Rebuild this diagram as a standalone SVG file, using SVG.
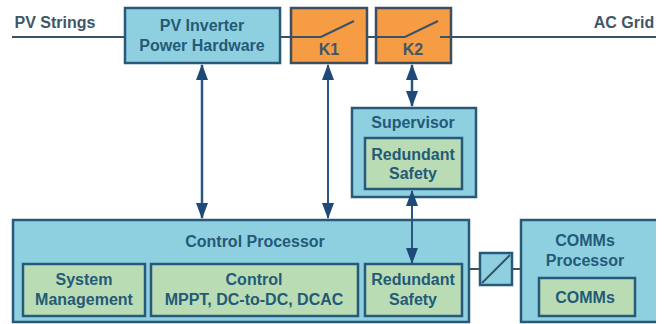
<svg xmlns="http://www.w3.org/2000/svg" width="665" height="324" viewBox="0 0 665 324">
<style>
text{font-family:"Liberation Sans",Arial,sans-serif;font-weight:700;font-size:16px;fill:#245a78;text-anchor:middle}
.d{fill:#3f5668}
.blue{fill:#8fd0e0;stroke:#27597a;stroke-width:2.5}
.green{fill:#b9dcb4;stroke:#27597a;stroke-width:2.5}
.orange{fill:#f59c45;stroke:#3d4f5f;stroke-width:2.5}
.line{stroke:#3b5266;stroke-width:2;fill:none}
.arr{stroke:#2a5580;stroke-width:2;fill:none;marker-start:url(#a);marker-end:url(#a)}
</style>
<defs>
<marker id="a" viewBox="0 0 16 12" refX="15" refY="6" markerWidth="16" markerHeight="12" markerUnits="userSpaceOnUse" orient="auto-start-reverse"><path d="M0 0L16 6L0 12Z" fill="#1f4a78"/></marker>
</defs>
<g id="pv-strings"><text class="d" x="55" y="28">PV Strings</text></g>
<g id="ac-grid"><text class="d" x="624" y="28">AC Grid</text></g>
<g id="pv-inverter"><rect class="blue" x="125" y="8" width="155" height="55"/><text x="202" y="31">PV Inverter</text><text x="202" y="51">Power Hardware</text></g>
<g id="k1"><rect class="orange" x="291" y="8" width="76" height="55"/><path class="line" d="M291 37H321L354 21"/><text class="d" x="329" y="55">K1</text></g>
<g id="k2"><rect class="orange" x="376" y="8" width="75" height="55"/><path class="line" d="M376 37H405L438 21M440 37H451"/><text class="d" x="413" y="55">K2</text></g>
<g id="supervisor"><rect class="blue" x="352" y="108" width="124" height="89"/><text x="413" y="128">Supervisor</text><rect class="green" x="365" y="138" width="97" height="51"/><text x="413" y="160">Redundant</text><text x="413" y="179">Safety</text></g>
<g id="control-processor"><rect class="blue" x="13" y="220" width="456" height="102"/><text x="255" y="247">Control Processor</text>
<g id="system-management"><rect class="green" x="23" y="264" width="122" height="52"/><text x="84" y="285">System</text><text x="84" y="305">Management</text></g>
<g id="control"><rect class="green" x="151" y="264" width="207" height="52"/><text x="254" y="285">Control</text><text x="254" y="305">MPPT, DC-to-DC, DCAC</text></g>
<g id="redundant-safety"><rect class="green" x="365" y="264" width="97" height="52"/><text x="413" y="285">Redundant</text><text x="413" y="305">Safety</text></g></g>
<g id="isolator"><rect class="blue" x="480" y="253" width="32" height="32"/><path class="line" d="M482 283L510 255"/></g>
<g id="comms-processor"><path d="M656 220H521V322H656Z" fill="#8fd0e0"/><path d="M656 220H521V322H656" fill="none" stroke="#27597a" stroke-width="2.5"/><text x="585" y="246">COMMs</text><text x="585" y="266">Processor</text>
<g id="comms"><rect class="green" x="539" y="278" width="96" height="38"/><text x="585" y="303">COMMs</text></g></g>
<g id="connectors">
<path class="line" d="M12 37H124M280 37H290M367 37H376M451 37H656"/>
<path class="line" d="M469 269H479M512 269H521"/>
<path class="arr" style="stroke-width:2.5" d="M202 65V218"/>
<path class="arr" d="M328 65V218"/>
<path class="arr" style="stroke-width:2.5" d="M412 65V106"/>
<path class="arr" d="M412 191V263"/>
</g>
</svg>
